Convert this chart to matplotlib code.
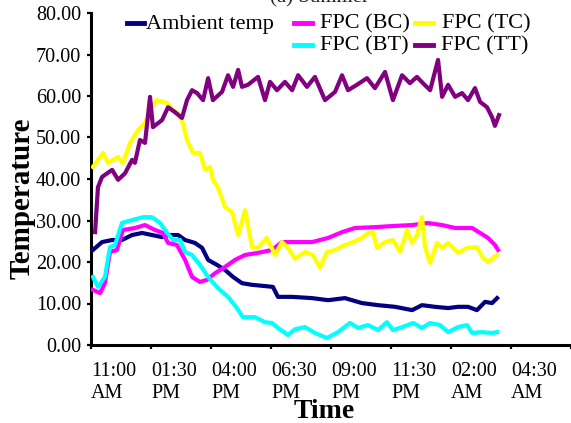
import matplotlib
matplotlib.use("Agg")
import matplotlib.pyplot as plt
import matplotlib.transforms as mtransforms

plt.rcParams['font.family'] = ['Liberation Serif', 'DejaVu Serif']

# ---- data (hours after 11:00 AM, temperature) ----
tick_labels = ["11:00\nAM", "01:30\nPM", "04:00\nPM", "06:30\nPM", "09:00\nPM",
               "11:30\nPM", "02:00\nAM", "04:30\nAM", ""]
tick_hours = [0, 2.5, 5, 7.5, 10, 12.5, 15, 17.5, 20]

amb_t = [0.08, 0.46, 0.88, 1.29, 1.71, 2.13, 2.54, 2.96, 3.21, 3.63, 3.92, 4.33, 4.63, 4.88,
         5.25, 5.58, 5.92, 6.29, 6.71, 7.25, 7.58, 7.79, 8.38, 9.21, 9.88, 10.58, 11.29, 11.96,
         12.67, 13.38, 13.79, 14.33, 14.88, 15.29, 15.71, 16.08, 16.42, 16.71, 16.92]
amb_v = [22.9, 24.8, 25.3, 25.3, 26.5, 27.0, 26.5, 26.0, 26.5, 26.5, 25.3, 24.6, 23.4, 20.5,
         19.3, 18.1, 16.4, 14.9, 14.5, 14.2, 14.0, 11.6, 11.6, 11.3, 10.8, 11.3, 10.1, 9.6,
         9.2, 8.4, 9.6, 9.2, 8.9, 9.2, 9.2, 8.4, 10.4, 10.1, 11.3]

bc_t = [0.08, 0.38, 0.58, 0.79, 1.08, 1.33, 1.83, 2.25, 2.67, 3.0, 3.21, 3.58, 3.92, 4.21,
        4.54, 4.83, 5.17, 5.58, 6.0, 6.42, 6.96, 7.54, 7.96, 8.38, 9.21, 9.88, 10.46, 11.0,
        11.83, 12.67, 13.38, 14.04, 14.63, 15.17, 15.88, 16.21, 16.54, 16.83, 16.96]
bc_v = [13.3, 12.5, 14.9, 22.4, 22.9, 27.7, 28.2, 28.9, 27.7, 27.0, 24.6, 24.1, 20.5, 16.4,
        15.2, 15.7, 17.3, 18.8, 20.5, 21.7, 22.2, 22.9, 24.8, 24.8, 24.8, 25.8, 27.2, 28.2,
        28.4, 28.7, 28.9, 29.4, 28.9, 28.2, 28.2, 27.0, 25.8, 24.1, 22.9]

tc_t = [0.08, 0.5, 0.71, 1.13, 1.33, 1.63, 1.96, 2.25, 2.54, 2.75, 3.17, 3.42, 3.63, 3.83,
        4.0, 4.25, 4.54, 4.75, 4.96, 5.08, 5.29, 5.58, 5.88, 6.13, 6.42, 6.71, 6.96, 7.33,
        7.67, 7.96, 8.21, 8.5, 8.92, 9.25, 9.54, 9.83, 10.17, 10.58, 10.92, 11.29, 11.54,
        11.75, 11.92, 12.25, 12.58, 12.88, 13.17, 13.38, 13.58, 13.79, 13.92, 14.13, 14.42,
        14.63, 14.88, 15.29, 15.67, 16.08, 16.33, 16.54, 16.92]
tc_v = [42.9, 46.3, 43.9, 45.3, 43.9, 48.7, 51.8, 53.5, 57.3, 59.0, 58.3, 56.6, 55.9, 53.5,
        49.4, 46.3, 46.3, 42.2, 42.9, 39.8, 38.0, 33.3, 32.0, 26.5, 32.5, 23.6, 23.4, 25.8,
        21.7, 24.8, 23.4, 20.8, 22.4, 21.7, 18.6, 22.4, 22.9, 24.1, 24.8, 25.8, 27.0,
        27.2, 23.4, 24.8, 25.3, 22.4, 27.7, 24.6, 26.5, 30.8, 23.6, 19.8, 24.6,
        23.4, 24.6, 22.2, 23.4, 23.6, 21.0, 20.0, 21.7]

bt_t = [0.08, 0.29, 0.58, 0.79, 1.0, 1.29, 1.71, 2.17, 2.54, 2.88, 3.17, 3.42, 3.71, 3.92,
        4.21, 4.54, 4.88, 5.29, 5.71, 6.08, 6.33, 6.83, 7.25, 7.54, 7.79, 8.21, 8.5, 8.92,
        9.33, 9.83, 10.29, 10.79, 11.13, 11.54, 11.96, 12.33, 12.58, 12.96, 13.42, 13.79,
        14.13, 14.54, 14.88, 15.29, 15.67, 15.88, 16.29, 16.71, 16.92]
bt_v = [16.4, 14.0, 16.4, 23.6, 24.1, 29.4, 30.1, 30.8, 30.8, 29.4, 27.0, 25.3, 25.3, 22.4,
        21.7, 19.3, 16.4, 13.7, 11.6, 8.9, 6.7, 6.7, 5.5, 5.3, 4.1, 2.4, 3.8, 4.3,
        2.9, 1.7, 3.1, 5.3, 4.1, 4.8, 3.6, 5.5, 3.6, 4.3, 5.3, 4.1,
        5.3, 4.8, 3.1, 4.3, 4.8, 2.9, 3.1, 2.9, 3.1]

tt_t = [0.17, 0.29, 0.46, 0.88, 1.13, 1.42, 1.71, 1.83, 2.04, 2.25, 2.46, 2.58, 2.96, 3.21,
        3.5, 3.79, 4.0, 4.21, 4.42, 4.67, 4.88, 5.08, 5.46, 5.71, 5.92, 6.13, 6.29, 6.54,
        6.96, 7.25, 7.46, 7.75, 8.08, 8.38, 8.63, 9.0, 9.33, 9.75, 10.17, 10.46, 10.71,
        11.08, 11.5, 11.83, 12.25, 12.58, 12.96, 13.29, 13.58, 13.83, 14.13, 14.46, 14.63,
        14.88, 15.17, 15.46, 15.71, 16.0, 16.21, 16.5, 16.71, 16.83, 17.0]
tt_v = [27.2, 38.0, 40.5, 42.2, 39.8, 41.4, 44.6, 43.9, 49.4, 48.7, 59.8, 52.5, 54.2, 57.3,
        56.1, 54.7, 59.0, 61.4, 60.7, 59.0, 64.3, 59.0, 61.0, 65.0, 62.2, 66.3, 62.2, 62.7,
        64.6, 59.0, 63.4, 61.4, 63.4, 61.4, 65.0, 62.2, 64.6, 59.0, 61.0, 65.0, 61.4,
        62.7, 64.3, 61.9, 65.8, 59.0, 65.0, 63.1, 64.6, 63.1, 61.4, 68.7, 59.8,
        62.7, 59.8, 60.7, 59.0, 61.9, 58.6, 57.3, 54.9, 52.8, 55.4]

series = [
    ("Ambient temp", amb_t, amb_v, "#000080"),
    ("FPC (BC)", bc_t, bc_v, "#FF00FF"),
    ("FPC (TC)", tc_t, tc_v, "#FFFF00"),
    ("FPC (BT)", bt_t, bt_v, "#00FFFF"),
    ("FPC (TT)", tt_t, tt_v, "#800080"),
]

W, H = 571, 423
fig = plt.figure(figsize=(W / 100, H / 100), dpi=100)
ax = fig.add_axes([91 / W, 1 - 345 / H, 1 - 91 / W, (345 - 13) / H])

for name, t, v, c in series:
    ax.plot(t, v, color=c, lw=3.0, solid_joinstyle='round', zorder=3)

ax.set_xlim(0, 20)
ax.set_ylim(0, 80)
ax.set_yticks(range(0, 81, 10))
ax.set_yticklabels([f"{y:.2f}" for y in range(0, 81, 10)], fontsize=14.5)
ax.set_xticks(tick_hours)
ax.set_xticklabels(tick_labels, fontsize=14.5, ha='left', linespacing=1.25)
offset = mtransforms.ScaledTranslation(-18 / 100, 0, fig.dpi_scale_trans)
for lab in ax.get_xticklabels():
    lab.set_transform(lab.get_transform() + offset)

for s in ['top', 'right']:
    ax.spines[s].set_visible(False)
for s in ['left', 'bottom']:
    ax.spines[s].set_linewidth(2.2)
ax.tick_params(axis='both', direction='out', length=3, width=1.6, pad=4)
ax.tick_params(axis='x', pad=9)

fig.text(22 / W, 1 - 198 / H, "Temperature", rotation=90, fontsize=21, fontweight='bold',
         ha='center', va='center')
fig.text(324 / W, 1 - 411 / H, "Time", fontsize=20, fontweight='bold', ha='center', va='center')

# title, cut off at the top edge in the reference (only its lower sliver shows)
fig.text(320 / W, 1 - 2 / H, "(a) Summer", fontsize=15, ha='center', va='baseline', color='#222222')

# manual legend
leg = [
    ("Ambient temp", 127, 144, 146, 23, "#000080"),
    ("FPC (BC)", 294, 312, 320, 23, "#FF00FF"),
    ("FPC (TC)", 415, 433, 442, 23, "#FFFF00"),
    ("FPC (BT)", 294, 312, 320, 45, "#00FFFF"),
    ("FPC (TT)", 415, 433, 441, 45, "#800080"),
]
for name, x0, x1, xt, yy, c in leg:
    fig.add_artist(plt.Line2D([x0 / W, x1 / W], [1 - yy / H, 1 - yy / H], color=c, lw=3.5,
                              transform=fig.transFigure))
    fig.text(xt / W, 1 - (yy + 1) / H, name, fontsize=16, ha='left', va='center')

fig.savefig("out.png", dpi=100)
